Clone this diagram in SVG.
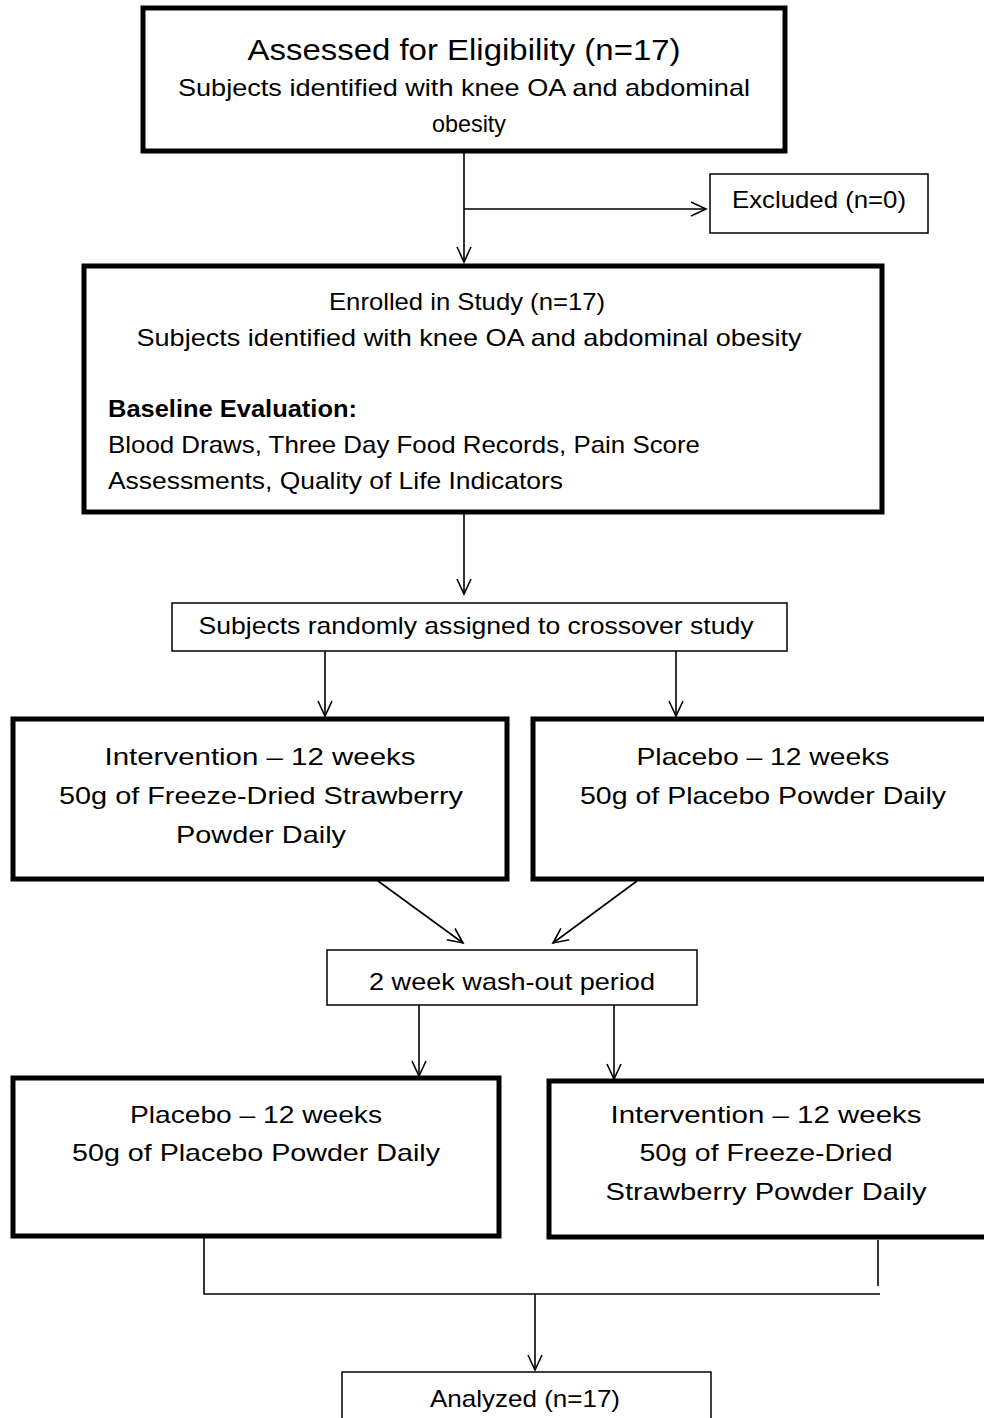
<svg xmlns="http://www.w3.org/2000/svg" width="984" height="1418" viewBox="0 0 984 1418">
<defs>
<marker id="arr" markerWidth="20" markerHeight="20" refX="16" refY="8" orient="auto" markerUnits="userSpaceOnUse">
<path d="M1,1 L16,8 L1,15" fill="none" stroke="#000" stroke-width="1.6"/>
</marker>
<style>
.thick{fill:#fff;stroke:#000;stroke-width:5}
.thin{fill:#fff;stroke:#000;stroke-width:1.5}
.t{font-family:"Liberation Sans",Arial,sans-serif;font-size:24px;fill:#000;text-anchor:middle}
.l{text-anchor:start}
.b{font-weight:bold}
.c{fill:none;stroke:#000;stroke-width:1.6}
</style>
</defs>
<rect width="984" height="1418" fill="#fff"/>
<g id="connectors">
<path class="c" d="M464,151 V262" marker-end="url(#arr)"/>
<path class="c" d="M464,209 H706" marker-end="url(#arr)"/>
<path class="c" d="M464,512 V594" marker-end="url(#arr)"/>
<path class="c" d="M325,651 V716" marker-end="url(#arr)"/>
<path class="c" d="M676,651 V716" marker-end="url(#arr)"/>
<path class="c" d="M378,881 L463,943" marker-end="url(#arr)"/>
<path class="c" d="M637,881 L553,943" marker-end="url(#arr)"/>
<path class="c" d="M419,1005 V1076" marker-end="url(#arr)"/>
<path class="c" d="M614,1005 V1079" marker-end="url(#arr)"/>
<path class="c" d="M204,1237 V1294 H880"/>
<path class="c" d="M878,1240 V1286"/>
<path class="c" d="M535,1294 V1370" marker-end="url(#arr)"/>
</g>
<g id="assessed">
<rect class="thick" x="143" y="8" width="642" height="143"/>
<text class="t" x="464" y="60" style="font-size:30px" textLength="433" lengthAdjust="spacingAndGlyphs">Assessed for Eligibility (n=17)</text>
<text class="t" x="464" y="96" textLength="572" lengthAdjust="spacingAndGlyphs">Subjects identified with knee OA and abdominal</text>
<text class="t" x="469" y="132" textLength="74" lengthAdjust="spacingAndGlyphs">obesity</text>
</g>
<g id="excluded">
<rect class="thin" x="710" y="174" width="218" height="59"/>
<text class="t" x="819" y="208" textLength="174" lengthAdjust="spacingAndGlyphs">Excluded (n=0)</text>
</g>
<g id="enrolled">
<rect class="thick" x="84" y="266" width="798" height="246"/>
<text class="t" x="467" y="310" textLength="276" lengthAdjust="spacingAndGlyphs">Enrolled in Study (n=17)</text>
<text class="t" x="469" y="346" textLength="665" lengthAdjust="spacingAndGlyphs">Subjects identified with knee OA and abdominal obesity</text>
<text class="t l b" x="108" y="417" textLength="249" lengthAdjust="spacingAndGlyphs">Baseline Evaluation:</text>
<text class="t l" x="108" y="453" textLength="592" lengthAdjust="spacingAndGlyphs">Blood Draws, Three Day Food Records, Pain Score</text>
<text class="t l" x="108" y="489" textLength="455" lengthAdjust="spacingAndGlyphs">Assessments, Quality of Life Indicators</text>
</g>
<g id="randomized">
<rect class="thin" x="172" y="603" width="615" height="48"/>
<text class="t" x="476" y="634" textLength="555" lengthAdjust="spacingAndGlyphs">Subjects randomly assigned to crossover study</text>
</g>
<g id="intervention1">
<rect class="thick" x="13" y="719" width="494" height="160"/>
<text class="t" x="260" y="765" textLength="311" lengthAdjust="spacingAndGlyphs">Intervention – 12 weeks</text>
<text class="t" x="261" y="804" textLength="404" lengthAdjust="spacingAndGlyphs">50g of Freeze-Dried Strawberry</text>
<text class="t" x="261" y="843" textLength="170" lengthAdjust="spacingAndGlyphs">Powder Daily</text>
</g>
<g id="placebo1">
<rect class="thick" x="533" y="719" width="454" height="160"/>
<text class="t" x="763" y="765" textLength="253" lengthAdjust="spacingAndGlyphs">Placebo – 12 weeks</text>
<text class="t" x="763" y="804" textLength="366" lengthAdjust="spacingAndGlyphs">50g of Placebo Powder Daily</text>
</g>
<g id="washout">
<rect class="thin" x="327" y="950" width="370" height="55"/>
<text class="t" x="512" y="990" textLength="286" lengthAdjust="spacingAndGlyphs">2 week wash-out period</text>
</g>
<g id="placebo2">
<rect class="thick" x="13" y="1078" width="486" height="158"/>
<text class="t" x="256" y="1123" textLength="252" lengthAdjust="spacingAndGlyphs">Placebo – 12 weeks</text>
<text class="t" x="256" y="1161" textLength="368" lengthAdjust="spacingAndGlyphs">50g of Placebo Powder Daily</text>
</g>
<g id="intervention2">
<rect class="thick" x="549" y="1081" width="438" height="156"/>
<text class="t" x="766" y="1123" textLength="311" lengthAdjust="spacingAndGlyphs">Intervention – 12 weeks</text>
<text class="t" x="766" y="1161" textLength="253" lengthAdjust="spacingAndGlyphs">50g of Freeze-Dried</text>
<text class="t" x="766" y="1200" textLength="321" lengthAdjust="spacingAndGlyphs">Strawberry Powder Daily</text>
</g>
<g id="analyzed">
<rect class="thin" x="342" y="1372" width="369" height="60"/>
<text class="t" x="525" y="1407" textLength="190" lengthAdjust="spacingAndGlyphs">Analyzed (n=17)</text>
</g>
</svg>
